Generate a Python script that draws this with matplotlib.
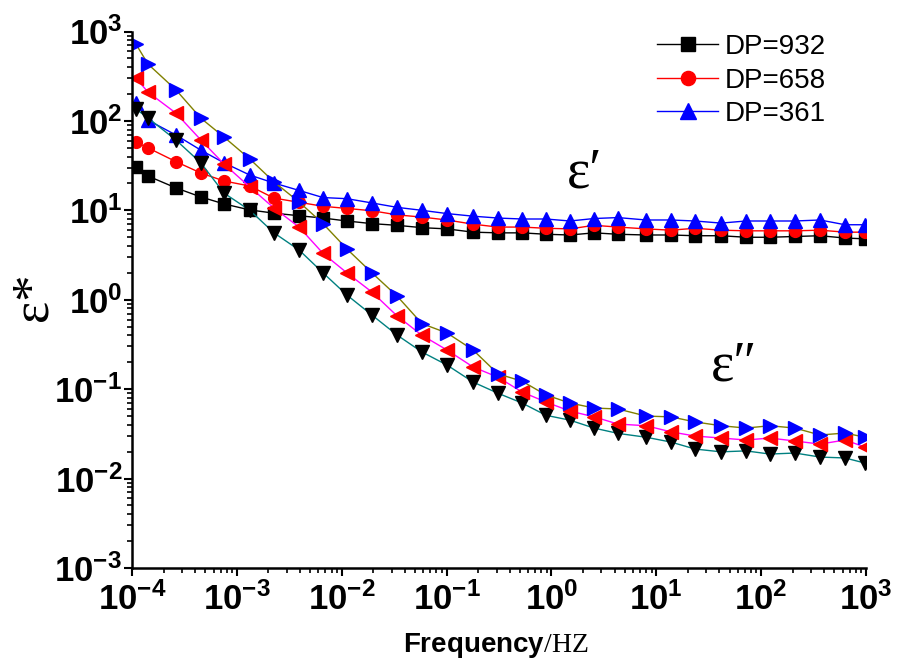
import matplotlib
matplotlib.use("Agg")
import matplotlib.pyplot as plt
from matplotlib.ticker import LogLocator, NullFormatter

plt.rcParams['mathtext.fontset'] = 'custom'
plt.rcParams['mathtext.bf'] = 'Liberation Sans:bold'
plt.rcParams['mathtext.rm'] = 'Liberation Serif'
plt.rcParams['mathtext.it'] = 'Liberation Serif:italic'
plt.rcParams['font.family'] = ['Liberation Sans', 'DejaVu Sans']

# ---------------- data ----------------
freq = [1.09e-4, 1.42e-4, 2.63e-4, 4.55e-4, 7.54e-4, 1.33e-3, 2.26e-3, 3.92e-3,
        6.63e-3, 1.12e-2, 1.94e-2, 3.37e-2, 5.83e-2, 0.101, 0.179, 0.309, 0.524,
        0.887, 1.50, 2.55, 4.31, 7.98, 13.8, 23.4, 41.4, 71.7, 121, 210, 364,
        631, 977]

eps1_932 = [30.5, 24.2, 17.8, 14.1, 11.8, 10.1, 9.3, 8.7, 8.2, 7.6, 7.1, 6.8,
            6.4, 6.2, 5.7, 5.6, 5.6, 5.4, 5.3, 5.6, 5.4, 5.3, 5.3, 5.2, 5.2,
            5.0, 5.0, 5.1, 5.2, 4.9, 4.8]
eps1_658 = [58, 50, 35, 26.1, 21.3, 18.7, 13.7, 12.3, 11.1, 10.5, 9.9, 8.9,
            8.4, 7.8, 7.0, 6.5, 6.5, 6.3, 6.2, 6.8, 6.5, 6.2, 6.0, 6.3, 6.0,
            5.9, 5.9, 5.9, 6.0, 5.7, 5.7]
eps1_361 = [158, 102, 69.5, 47, 34, 24.8, 20.2, 16.7, 13.9, 13.5, 12.1, 10.8,
            10.0, 9.2, 8.6, 8.2, 8.0, 8.0, 7.6, 8.1, 8.3, 7.8, 7.8, 7.6, 7.2,
            7.6, 7.6, 7.6, 7.8, 6.9, 6.9]

eps2_932 = [136, 108, 61, 33.8, 15.6, 10.0, 5.6, 3.6, 2.0, 1.13, 0.675, 0.403,
            0.26, 0.186, 0.12, 0.090, 0.070, 0.051, 0.045, 0.0367, 0.032,
            0.029, 0.0256, 0.0214, 0.0199, 0.0204, 0.0188, 0.0193, 0.0174,
            0.017, 0.0149]
eps2_658 = [302, 210, 122, 61, 33, 18.2, 10.6, 6.5, 3.3, 2.0, 1.22, 0.66,
            0.40, 0.274, 0.177, 0.136, 0.093, 0.0717, 0.0569, 0.049, 0.0407,
            0.039, 0.0333, 0.0299, 0.0284, 0.027, 0.0284, 0.0263, 0.0243,
            0.027, 0.0225]
eps2_361 = [725, 433, 222, 107, 66, 37.5, 20.8, 12.4, 7.1, 3.7, 2.0, 1.1,
            0.54, 0.425, 0.274, 0.148, 0.123, 0.086, 0.070, 0.0615, 0.060,
            0.050, 0.049, 0.043, 0.039, 0.0367, 0.039, 0.0367, 0.0307,
            0.0323, 0.029]

series_labels = ['DP=932', 'DP=658', 'DP=361']

xtick_vals = [1e-4, 1e-3, 1e-2, 1e-1, 1e0, 1e1, 1e2, 1e3]
xtick_labels = [r'$\mathbf{10^{-4}}$', r'$\mathbf{10^{-3}}$', r'$\mathbf{10^{-2}}$',
                r'$\mathbf{10^{-1}}$', r'$\mathbf{10^{0}}$', r'$\mathbf{10^{1}}$',
                r'$\mathbf{10^{2}}$', r'$\mathbf{10^{3}}$']
ytick_vals = [1e-3, 1e-2, 1e-1, 1e0, 1e1, 1e2, 1e3]
ytick_labels = [r'$\mathbf{10^{-3}}$', r'$\mathbf{10^{-2}}$', r'$\mathbf{10^{-1}}$',
                r'$\mathbf{10^{0}}$', r'$\mathbf{10^{1}}$', r'$\mathbf{10^{2}}$',
                r'$\mathbf{10^{3}}$']

# ---------------- figure ----------------
fig = plt.figure(figsize=(9.01, 6.65), dpi=100)
ax = fig.add_axes([0.1465, 0.1459, 0.8147, 0.8067])

ax.plot(freq, eps1_932, '-', color='black', lw=1.0, marker='s', ms=8,
        mfc='black', mec='black', label=series_labels[0])
ax.plot(freq, eps1_658, '-', color='#ff0000', lw=1.0, marker='o', ms=8.5,
        mfc='#ff0000', mec='#ff0000', label=series_labels[1])
ax.plot(freq, eps1_361, '-', color='#0000ff', lw=1.0, marker='^', ms=10,
        mfc='#0000ff', mec='#0000ff', label=series_labels[2])

ax.plot(freq, eps2_932, '-', color='#008080', lw=1.0, marker='v', ms=10,
        mfc='black', mec='black')
ax.plot(freq, eps2_658, '-', color='#ff00ff', lw=1.0, marker='<', ms=10,
        mfc='#ff0000', mec='#ff0000')
ax.plot(freq, eps2_361, '-', color='#808000', lw=1.0, marker='>', ms=10,
        mfc='#0000ff', mec='#0000ff')

ax.set_xscale('log')
ax.set_yscale('log')
ax.set_xlim(1e-4, 1e3)
ax.set_ylim(1e-3, 1e3)

ax.set_xticks(xtick_vals)
ax.set_xticklabels(xtick_labels)
ax.set_yticks(ytick_vals)
ax.set_yticklabels(ytick_labels)
ax.xaxis.set_minor_locator(LogLocator(base=10, subs=range(2, 10), numticks=20))
ax.yaxis.set_minor_locator(LogLocator(base=10, subs=range(2, 10), numticks=20))
ax.xaxis.set_minor_formatter(NullFormatter())
ax.yaxis.set_minor_formatter(NullFormatter())

for s in ['top', 'right']:
    ax.spines[s].set_visible(False)
for s in ['left', 'bottom']:
    ax.spines[s].set_linewidth(1.8)

ax.tick_params(axis='both', which='major', direction='out', length=6, width=1.5,
               labelsize=25)
ax.tick_params(axis='both', which='minor', direction='out', length=3.5, width=1.2)
ax.tick_params(axis='x', which='major', pad=4)
ax.tick_params(axis='y', which='major', pad=1)

ax.set_xlabel(r'$\mathbf{Frequency}\mathrm{/HZ}$', fontsize=20)
ax.xaxis.set_label_coords(0.495, -0.118)
ax.set_ylabel('ε*', fontsize=38, family=['Liberation Serif', 'DejaVu Serif'])
ax.yaxis.set_label_coords(-0.102, 0.505)

ax.text(0.617, 0.736, 'ε′', transform=ax.transAxes, fontsize=40,
        family=['Liberation Serif', 'DejaVu Serif'], ha='center', va='center')
ax.text(0.82, 0.375, 'ε″', transform=ax.transAxes, fontsize=40,
        family=['Liberation Serif', 'DejaVu Serif'], ha='center', va='center')

leg = ax.legend(loc='upper left', bbox_to_anchor=(657 / 901, 1 - 34 / 665),
                bbox_transform=fig.transFigure, frameon=False, fontsize=20,
                handlelength=2.2, handletextpad=0.25, labelspacing=0.27,
                borderpad=0, borderaxespad=0, markerscale=1.2)

fig.savefig('out.png', dpi=100)
